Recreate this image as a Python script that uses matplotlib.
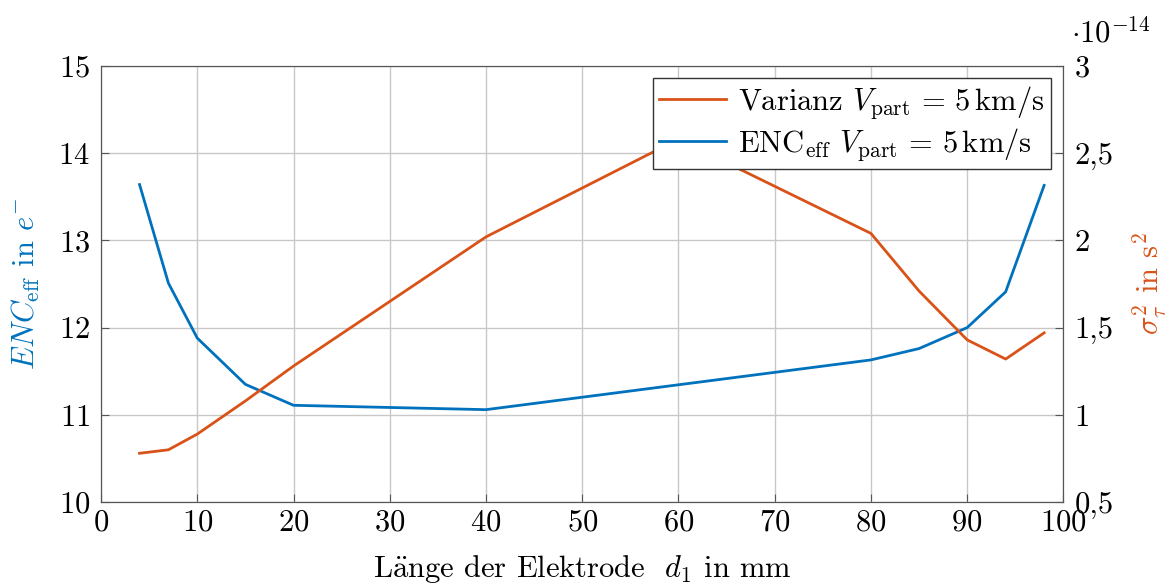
import numpy as np
import matplotlib
matplotlib.use('Agg')
import matplotlib.pyplot as plt
from matplotlib.ticker import FuncFormatter

plt.rcParams['font.family'] = ['cmr10', 'DejaVu Serif']
plt.rcParams['mathtext.fontset'] = 'cm'
plt.rcParams['axes.unicode_minus'] = False
plt.rcParams['axes.formatter.use_mathtext'] = True

## Daten
laenge_enc = [4, 7, 10, 15, 20, 40, 80, 85, 90, 94, 98]
enc_eff = [13.64, 12.51, 11.88, 11.35, 11.11, 11.06, 11.63, 11.76, 12.0, 12.41, 13.63]

laenge_var = [4, 7, 10, 15, 20, 40, 60, 80, 85, 90, 94, 98]
varianz = np.array([0.78, 0.80, 0.89, 1.08, 1.28, 2.02, 2.58, 2.04, 1.71, 1.43, 1.32, 1.47]) * 1e-14

blau = '#0072BD'
orange = '#D95319'
fs = 22

fig = plt.figure(figsize=(11.75, 5.88), dpi=100)
ax = fig.add_axes([0.086, 0.146, 0.819, 0.742])
ax2 = ax.twinx()

vpart = r'$V_\mathrm{part}\,=\,5\,\mathrm{km/s}$'
l1, = ax.plot(laenge_enc, enc_eff, color=blau, lw=2, label=r'ENC$_\mathrm{eff}$ ' + vpart)
l2, = ax2.plot(laenge_var, varianz, color=orange, lw=2, label=r'Varianz ' + vpart)

ax.set_xlim(0, 100)
ax.set_ylim(10, 15)
ax2.set_ylim(0.5e-14, 3e-14)
ax.set_xticks(np.arange(0, 101, 10))
ax.set_yticks(np.arange(10, 15.1, 1))
ax2.set_yticks(np.arange(0.5, 3.01, 0.5) * 1e-14)
ax2.yaxis.set_major_formatter(FuncFormatter(lambda v, p: f'{v / 1e-14:g}'.replace('.', ',')))

ax.grid(True, color='#c8c8c8', lw=1)
for a in (ax, ax2):
    a.tick_params(direction='in', labelsize=fs, length=6, color='#555555')
    for s in a.spines.values():
        s.set_color('#555555')
ax.tick_params(axis='x', pad=5)
ax.tick_params(axis='y', pad=8)
ax2.tick_params(axis='y', pad=8)

ax2.text(1.008, 1.04, r'$\cdot 10^{-14}$', transform=ax2.transAxes, fontsize=fs, ha='left', va='bottom')

ax.set_xlabel(r'L$\mathrm{\ddot{a}}$nge der Elektrode  $d_1$ in mm', fontsize=fs, labelpad=12)
ax.set_ylabel(r'$ENC_\mathrm{eff}$ in $e^{-}$', fontsize=fs, color=blau, labelpad=12)
ax2.set_ylabel(r'$\sigma_\tau^2$ in s$^2$', fontsize=fs, color=orange, labelpad=12)

leg = ax2.legend(handles=[l2, l1], loc='upper right', fontsize=fs, fancybox=False,
                 edgecolor='#333333', framealpha=1, borderpad=0.2, handlelength=2.2,
                 handletextpad=0.4, labelspacing=0.15, borderaxespad=0.4)
leg.get_frame().set_linewidth(1)

plt.savefig('out.png', dpi=100)
